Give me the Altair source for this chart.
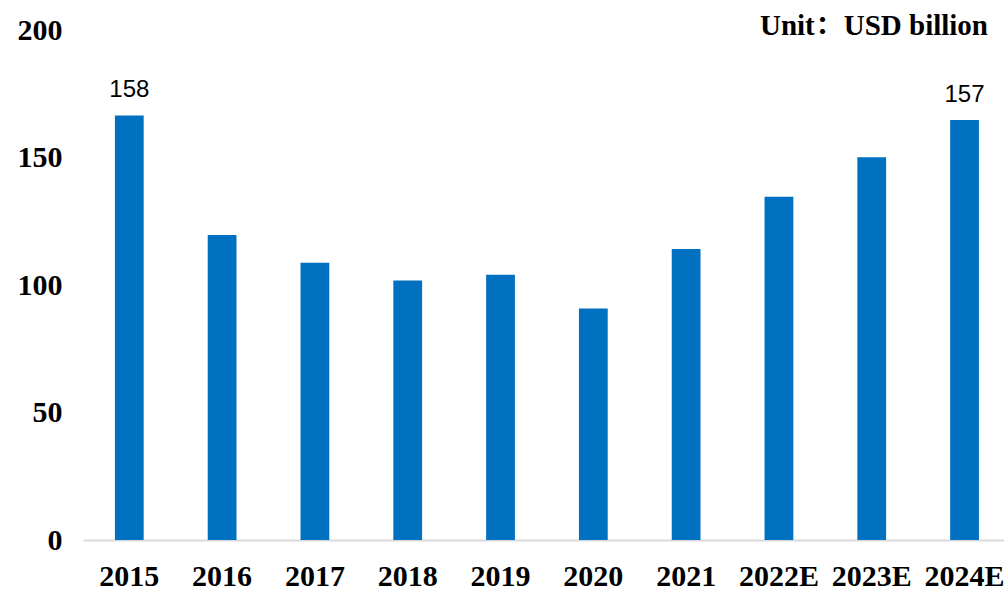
import altair as alt
import pandas as pd

years = ["2015", "2016", "2017", "2018", "2019", "2020", "2021", "2022E", "2023E", "2024E"]
values = [166.5, 119.6, 108.7, 101.8, 104.0, 90.8, 114.1, 134.6, 150.1, 164.7]
labels = ["158", "", "", "", "", "", "", "", "", "157"]
y_ticks = [0, 50, 100, 150, 200]

df = pd.DataFrame({"year": years, "value": values, "label": labels})

SERIF = "Liberation Serif, Noto Serif CJK SC, serif"

x_enc = alt.X(
    "year:N",
    sort=years,
    title=None,
    scale=alt.Scale(paddingInner=0.69, paddingOuter=0.307, align=0.56),
    axis=alt.Axis(
        labelAngle=0,
        labelFont=SERIF,
        labelFontWeight="bold",
        labelFontSize=30,
        labelColor="#000000",
        labelPadding=21,
        ticks=False,
        domainColor="#d9d9d9",
        domainWidth=2,
        grid=False,
    ),
)
y_enc = alt.Y(
    "value:Q",
    title=None,
    scale=alt.Scale(domain=[0, 200], nice=False, zero=True),
    axis=alt.Axis(
        values=y_ticks,
        labelFont=SERIF,
        labelFontWeight="bold",
        labelFontSize=30,
        labelColor="#000000",
        labelPadding=21,
        labelBaseline="middle",
        ticks=False,
        domain=False,
        grid=False,
    ),
)

bars = alt.Chart(df).mark_bar(color="#0070C0").encode(x=x_enc, y=y_enc)
text = alt.Chart(df).mark_text(
    font="Liberation Sans", fontSize=24, color="#000000", dy=-18, baseline="alphabetic"
).encode(x=alt.X("year:N", sort=years), y="value:Q", text="label:N")

chart = (
    alt.layer(bars, text)
    .properties(
        width=921,
        height=510,
        autosize=alt.AutoSizeParams(type="none"),
        padding={"left": 83, "top": 30, "right": 0, "bottom": 50},
        title=alt.TitleParams(
            "Unit：USD billion",
            anchor="end",
            frame="group",
            font=SERIF,
            fontWeight="bold",
            fontSize=29,
            color="#000000",
            baseline="alphabetic",
            offset=0,
            dy=49,
            dx=-16,
        ),
    )
    .configure_view(stroke=None)
)

chart.save("out.html", embed_options={"renderer": "svg", "actions": False})
